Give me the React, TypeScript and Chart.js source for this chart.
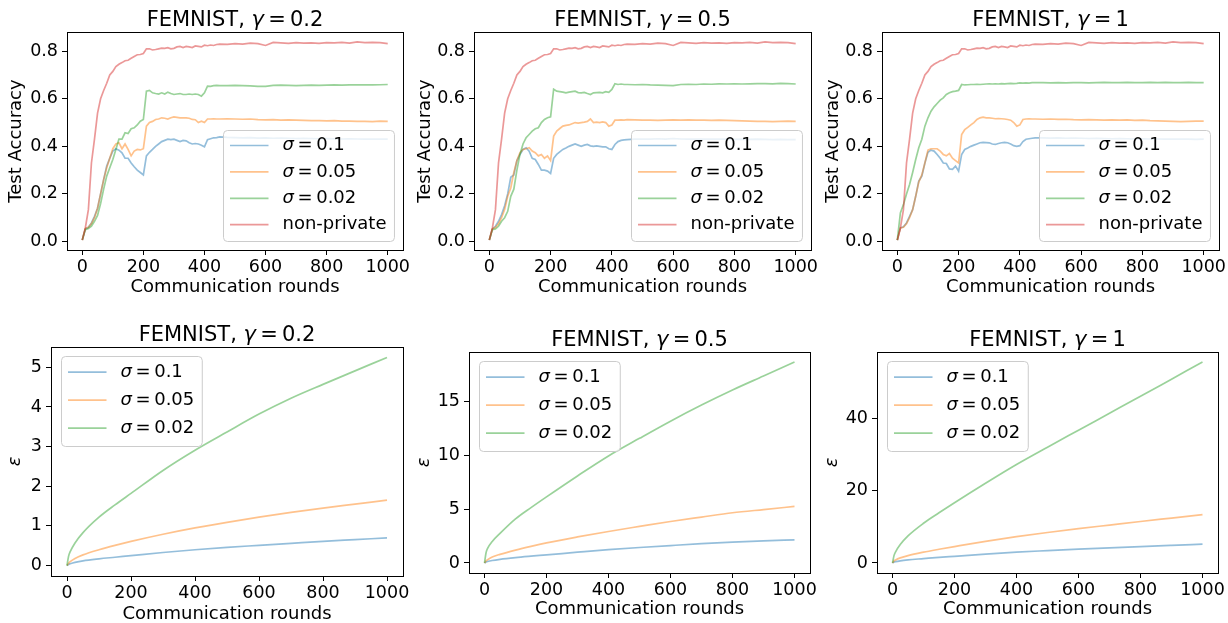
import React, { useEffect, useRef } from 'react';
import { Chart, registerables } from 'chart.js';

Chart.register(...registerables);

const FAMILY = '"DejaVu Sans", "Liberation Sans", sans-serif';

// ---------------- data ----------------
const accRounds = [0, 10, 20, 30, 40, 50, 60, 70, 80, 90, 100, 110, 120, 130, 140, 150, 160, 170, 180, 190, 200, 210, 220, 230, 240, 250, 260, 270, 280, 290, 300, 310, 320, 330, 340, 350, 360, 370, 380, 390, 400, 410, 420, 430, 440, 450, 475, 500, 525, 550, 575, 600, 625, 650, 675, 700, 725, 750, 775, 800, 825, 850, 875, 900, 925, 950, 975, 1000];

const accNonPrivate = [0.006, 0.057, 0.134, 0.33, 0.43, 0.54, 0.60, 0.635, 0.665, 0.70,
  0.715, 0.735, 0.745, 0.752, 0.76, 0.762, 0.77, 0.778, 0.785, 0.786,
  0.79, 0.81, 0.81, 0.805, 0.807, 0.81, 0.813, 0.812, 0.815, 0.81,
  0.812, 0.818, 0.82, 0.815, 0.82, 0.818, 0.815, 0.822, 0.82, 0.818,
  0.825, 0.823, 0.826, 0.824, 0.828, 0.83,
  0.829, 0.832, 0.83, 0.834, 0.832, 0.824, 0.837, 0.835, 0.833, 0.836, 0.834, 0.835, 0.833, 0.836, 0.835, 0.837, 0.834, 0.839, 0.836, 0.837, 0.836, 0.832];

const accG02Sig01 = [0.006, 0.053, 0.06, 0.078, 0.106, 0.14, 0.2, 0.26, 0.317, 0.35,
  0.38, 0.39, 0.384, 0.373, 0.35, 0.35, 0.33, 0.314, 0.30, 0.29,
  0.28, 0.36, 0.375, 0.387, 0.40, 0.41, 0.42, 0.425, 0.43, 0.428,
  0.43, 0.425, 0.42, 0.425, 0.423, 0.415, 0.41, 0.412, 0.41, 0.405,
  0.398, 0.428, 0.432, 0.436, 0.437, 0.44,
  0.438, 0.437, 0.436, 0.437, 0.435, 0.436, 0.434, 0.435, 0.434, 0.433, 0.434, 0.433, 0.432, 0.433, 0.432, 0.431, 0.432, 0.431, 0.43, 0.431, 0.43, 0.43];
const accG02Sig005 = [0.006, 0.055, 0.06, 0.075, 0.10, 0.14, 0.20, 0.26, 0.31, 0.35,
  0.39, 0.41, 0.415, 0.39, 0.41, 0.387, 0.36, 0.38, 0.387, 0.385,
  0.39, 0.485, 0.50, 0.505, 0.513, 0.515, 0.52, 0.518, 0.515, 0.52,
  0.524, 0.522, 0.52, 0.52, 0.52, 0.518, 0.513, 0.512, 0.50, 0.506,
  0.50, 0.515, 0.515, 0.516, 0.515, 0.515,
  0.516, 0.515, 0.514, 0.515, 0.512, 0.511, 0.512, 0.51, 0.511, 0.51, 0.509, 0.508, 0.508, 0.507, 0.508, 0.506, 0.506, 0.505, 0.505, 0.504, 0.506, 0.505];
const accG02Sig002 = [0.006, 0.05, 0.055, 0.065, 0.085, 0.11, 0.16, 0.22, 0.275, 0.31,
  0.345, 0.387, 0.43, 0.43, 0.457, 0.454, 0.474, 0.478, 0.49, 0.506,
  0.513, 0.632, 0.635, 0.625, 0.622, 0.62, 0.625, 0.62, 0.628, 0.622,
  0.618, 0.62, 0.622, 0.618, 0.618, 0.62, 0.618, 0.62, 0.618, 0.611,
  0.625, 0.653, 0.652, 0.655, 0.656, 0.655,
  0.655, 0.656, 0.655, 0.654, 0.652, 0.652, 0.656, 0.657, 0.656, 0.655, 0.656, 0.657, 0.656, 0.657, 0.658, 0.657, 0.658, 0.659, 0.658, 0.658, 0.659, 0.66];

const accG05Sig01 = [0.006, 0.053, 0.064, 0.085, 0.113, 0.15, 0.2, 0.27, 0.28, 0.34,
  0.366, 0.387, 0.394, 0.38, 0.35, 0.345, 0.324, 0.30, 0.30, 0.296,
  0.286, 0.35, 0.366, 0.377, 0.387, 0.393, 0.40, 0.405, 0.41, 0.405,
  0.40, 0.405, 0.408, 0.402, 0.40, 0.402, 0.40, 0.398, 0.398, 0.39,
  0.387, 0.408, 0.42, 0.425, 0.427, 0.428,
  0.43, 0.431, 0.43, 0.432, 0.43, 0.433, 0.431, 0.43, 0.431, 0.43, 0.431, 0.43, 0.43, 0.429, 0.43, 0.429, 0.43, 0.429, 0.428, 0.429, 0.428, 0.428];
const accG05Sig005 = [0.006, 0.053, 0.06, 0.075, 0.10, 0.135, 0.19, 0.225, 0.29, 0.34,
  0.373, 0.387, 0.39, 0.394, 0.38, 0.373, 0.36, 0.366, 0.35, 0.36,
  0.34, 0.443, 0.464, 0.475, 0.485, 0.488, 0.49, 0.495, 0.50, 0.498,
  0.50, 0.502, 0.505, 0.515, 0.50, 0.502, 0.50, 0.503, 0.50, 0.485,
  0.49, 0.51, 0.51, 0.511, 0.51, 0.512,
  0.511, 0.51, 0.51, 0.509, 0.51, 0.511, 0.51, 0.511, 0.51, 0.51, 0.509, 0.51, 0.509, 0.508, 0.507, 0.506, 0.505, 0.505, 0.504, 0.505, 0.506, 0.505];
const accG05Sig002 = [0.006, 0.05, 0.053, 0.064, 0.085, 0.10, 0.127, 0.19, 0.22, 0.30,
  0.366, 0.41, 0.436, 0.45, 0.464, 0.474, 0.478, 0.50, 0.513, 0.52,
  0.524, 0.64, 0.632, 0.63, 0.628, 0.625, 0.628, 0.63, 0.632, 0.626,
  0.625, 0.627, 0.622, 0.618, 0.625, 0.626, 0.627, 0.625, 0.63, 0.627,
  0.639, 0.663, 0.66, 0.662, 0.66, 0.66,
  0.659, 0.66, 0.658, 0.657, 0.656, 0.655, 0.66, 0.661, 0.66, 0.662, 0.661, 0.663, 0.662, 0.663, 0.662, 0.663, 0.664, 0.664, 0.663, 0.665, 0.664, 0.662];

const accG1Sig01 = [0.006, 0.057, 0.062, 0.078, 0.106, 0.134, 0.19, 0.254, 0.275, 0.33,
  0.375, 0.384, 0.38, 0.366, 0.35, 0.33, 0.328, 0.305, 0.303, 0.317,
  0.296, 0.366, 0.387, 0.393, 0.40, 0.405, 0.41, 0.415, 0.417, 0.416,
  0.415, 0.41, 0.408, 0.412, 0.415, 0.417, 0.415, 0.41, 0.403, 0.40,
  0.403, 0.42, 0.43, 0.432, 0.434, 0.436,
  0.436, 0.435, 0.436, 0.434, 0.435, 0.434, 0.433, 0.434, 0.433, 0.432, 0.433, 0.432, 0.431, 0.432, 0.431, 0.431, 0.43, 0.431, 0.43, 0.43, 0.429, 0.43];
const accG1Sig005 = [0.006, 0.057, 0.06, 0.075, 0.10, 0.134, 0.19, 0.25, 0.28, 0.33,
  0.384, 0.39, 0.39, 0.39, 0.38, 0.366, 0.36, 0.37, 0.35, 0.34,
  0.33, 0.45, 0.47, 0.48, 0.49, 0.50, 0.513, 0.52, 0.523, 0.52,
  0.52, 0.518, 0.516, 0.517, 0.516, 0.515, 0.513, 0.51, 0.50, 0.485,
  0.49, 0.513, 0.515, 0.516, 0.515, 0.515,
  0.514, 0.515, 0.513, 0.514, 0.512, 0.511, 0.512, 0.511, 0.51, 0.511, 0.51, 0.511, 0.509, 0.51, 0.508, 0.507, 0.506, 0.505, 0.504, 0.505, 0.506, 0.506];
const accG1Sig002 = [0.006, 0.12, 0.155, 0.2, 0.24, 0.29, 0.345, 0.394, 0.43, 0.485,
  0.52, 0.548, 0.566, 0.58, 0.594, 0.604, 0.618, 0.625, 0.63, 0.632,
  0.635, 0.66, 0.658, 0.659, 0.66, 0.66, 0.661, 0.66, 0.661, 0.662,
  0.663, 0.662, 0.663, 0.662, 0.664, 0.663, 0.664, 0.665, 0.664, 0.665,
  0.667, 0.666, 0.667, 0.666, 0.668, 0.668,
  0.668, 0.667, 0.668, 0.667, 0.668, 0.668, 0.667, 0.668, 0.669, 0.668, 0.668, 0.669, 0.668, 0.668, 0.669, 0.668, 0.669, 0.668, 0.668, 0.669, 0.668, 0.668];

const epsRounds = [0, 5, 10, 25, 50, 100, 150, 200, 300, 400, 500, 600, 700, 800, 900, 1000];
const epsG02Sig01 = [0, 0.03, 0.045, 0.08, 0.12, 0.17, 0.21, 0.25, 0.33, 0.40, 0.46, 0.51, 0.56, 0.61, 0.655, 0.70];
const epsG02Sig005 = [0, 0.06, 0.10, 0.18, 0.27, 0.40, 0.51, 0.61, 0.79, 0.95, 1.09, 1.22, 1.34, 1.45, 1.55, 1.65];
const epsG02Sig002 = [0, 0.24, 0.35, 0.57, 0.83, 1.22, 1.53, 1.82, 2.40, 2.91, 3.37, 3.82, 4.22, 4.57, 4.91, 5.25];
const epsG05Sig01 = [0, 0.08, 0.13, 0.23, 0.34, 0.50, 0.63, 0.75, 1.0, 1.24, 1.44, 1.62, 1.79, 1.93, 2.05, 2.15];
const epsG05Sig005 = [0, 0.2, 0.3, 0.55, 0.8, 1.2, 1.55, 1.87, 2.42, 2.93, 3.4, 3.86, 4.27, 4.67, 4.97, 5.26];
const epsG05Sig002 = [0, 0.95, 1.35, 2.0, 2.75, 4.1, 5.15, 6.15, 8.1, 9.96, 11.6, 13.2, 14.7, 16.1, 17.4, 18.7];
const epsG1Sig01 = [0, 0.25, 0.37, 0.6, 0.85, 1.2, 1.55, 1.85, 2.45, 3.0, 3.42, 3.82, 4.2, 4.55, 4.88, 5.2];
const epsG1Sig005 = [0, 0.58, 0.85, 1.4, 2.05, 3.0, 3.8, 4.55, 6.0, 7.3, 8.45, 9.5, 10.5, 11.5, 12.45, 13.4];
const epsG1Sig002 = [0, 2.1, 3.1, 5.1, 7.5, 11.0, 13.9, 16.7, 22.1, 27.3, 32.1, 36.8, 41.5, 46.2, 50.95, 55.7];

const xTickValues = [0, 200, 400, 600, 800, 1000];
const accTickValues = [0, 0.2, 0.4, 0.6, 0.8];
const epsTicksG02 = [0, 1, 2, 3, 4, 5];
const epsTicksG05 = [0, 5, 10, 15];
const epsTicksG1 = [0, 20, 40];

const sigmaLabels = ['σ=0.1', 'σ=0.05', 'σ=0.02'];
const nonPrivateLabel = 'non-private';
const panelTitles = ['FEMNIST, γ=0.2', 'FEMNIST, γ=0.5', 'FEMNIST, γ=1'];
const xAxisTitle = 'Communication rounds';
const accAxisTitle = 'Test Accuracy';
const epsAxisTitle = 'ε';

// ---------------- styling ----------------
const LINE_COLORS = ['rgba(31,119,180,0.48)', 'rgba(255,127,14,0.48)', 'rgba(44,160,44,0.48)', 'rgba(214,39,40,0.48)'];
const LINE_WIDTH = 1.7;
const TICK_SIZE = 17.5;
const LABEL_SIZE = 18;
const TITLE_SIZE = 21;
const LEGEND_SIZE = 18;

type Box = { l: number; t: number; r: number; b: number };
type Cell = { x: number; y: number; w: number; h: number };
type PanelDef = {
  cell: Cell;
  plot: Box;
  title: string;
  yTitle: string;
  yItalic: boolean;
  yTitlePad: number;
  xTitlePad: number;
  xs: number[];
  series: number[][];
  labels: string[];
  yTicks: number[];
  yDecimals: number;
  legend: 'lr' | 'ul';
  legendFirst: number;
  legendGap: number;
  legendLast: number;
  smooth: boolean;
};

const accLabels = [...sigmaLabels, nonPrivateLabel];

const PANELS: PanelDef[] = [
  {
    cell: { x: 0, y: 0, w: 410, h: 300 }, plot: { l: 67, t: 32, r: 403, b: 250 },
    title: panelTitles[0], yTitle: accAxisTitle, yItalic: false, yTitlePad: 5.4, xTitlePad: 2.1,
    xs: accRounds, series: [accG02Sig01, accG02Sig005, accG02Sig002, accNonPrivate], labels: accLabels,
    yTicks: accTickValues, yDecimals: 1, legend: 'lr', legendFirst: 15, legendGap: 26.4, legendLast: 16.8, smooth: false,
  },
  {
    cell: { x: 410, y: 0, w: 408, h: 300 }, plot: { l: 474, t: 32, r: 811, b: 250 },
    title: panelTitles[1], yTitle: accAxisTitle, yItalic: false, yTitlePad: 4.4, xTitlePad: 2.1,
    xs: accRounds, series: [accG05Sig01, accG05Sig005, accG05Sig002, accNonPrivate], labels: accLabels,
    yTicks: accTickValues, yDecimals: 1, legend: 'lr', legendFirst: 15, legendGap: 26.4, legendLast: 16.8, smooth: false,
  },
  {
    cell: { x: 818, y: 0, w: 410, h: 300 }, plot: { l: 882, t: 32, r: 1219, b: 250 },
    title: panelTitles[2], yTitle: accAxisTitle, yItalic: false, yTitlePad: 4.4, xTitlePad: 2.1,
    xs: accRounds, series: [accG1Sig01, accG1Sig005, accG1Sig002, accNonPrivate], labels: accLabels,
    yTicks: accTickValues, yDecimals: 1, legend: 'lr', legendFirst: 15, legendGap: 26.4, legendLast: 16.8, smooth: false,
  },
  {
    cell: { x: 0, y: 300, w: 410, h: 323 }, plot: { l: 51, t: 347, r: 403, b: 576 },
    title: panelTitles[0], yTitle: epsAxisTitle, yItalic: true, yTitlePad: 4.7, xTitlePad: -2.6,
    xs: epsRounds, series: [epsG02Sig01, epsG02Sig005, epsG02Sig002], labels: sigmaLabels,
    yTicks: epsTicksG02, yDecimals: 0, legend: 'ul', legendFirst: 15.7, legendGap: 28, legendLast: 18.3, smooth: true,
  },
  {
    cell: { x: 410, y: 300, w: 408, h: 323 }, plot: { l: 469, t: 352, r: 810, b: 573 },
    title: panelTitles[1], yTitle: epsAxisTitle, yItalic: true, yTitlePad: 3.7, xTitlePad: 2.4,
    xs: epsRounds, series: [epsG05Sig01, epsG05Sig005, epsG05Sig002], labels: sigmaLabels,
    yTicks: epsTicksG05, yDecimals: 0, legend: 'ul', legendFirst: 15.7, legendGap: 28, legendLast: 18.3, smooth: true,
  },
  {
    cell: { x: 818, y: 300, w: 410, h: 323 }, plot: { l: 877, t: 352, r: 1218, b: 573 },
    title: panelTitles[2], yTitle: epsAxisTitle, yItalic: true, yTitlePad: 3.7, xTitlePad: 2.4,
    xs: epsRounds, series: [epsG1Sig01, epsG1Sig005, epsG1Sig002], labels: sigmaLabels,
    yTicks: epsTicksG1, yDecimals: 0, legend: 'ul', legendFirst: 15.7, legendGap: 28, legendLast: 18.3, smooth: true,
  },
];

// ---------------- rich text (italic greek, spaced '=') ----------------
type Piece = { t: string; italic: boolean; before: number; after: number };
function splitRich(text: string): Piece[] {
  const out: Piece[] = [];
  let buf = '';
  const flush = () => {
    if (buf) { out.push({ t: buf, italic: false, before: 0, after: 0 }); buf = ''; }
  };
  for (const ch of text) {
    if (/[\u03b1-\u03c9]/.test(ch)) { flush(); out.push({ t: ch, italic: true, before: 0, after: 0 }); }
    else if (ch === '=') { flush(); out.push({ t: '=', italic: false, before: 0.2, after: 0.2 }); }
    else buf += ch;
  }
  flush();
  return out;
}
function fontFor(p: Piece, size: number) {
  return `${p.italic ? 'italic ' : ''}${size}px ${FAMILY}`;
}
function richWidth(ctx: CanvasRenderingContext2D, text: string, size: number) {
  let w = 0;
  for (const p of splitRich(text)) {
    ctx.font = fontFor(p, size);
    w += (p.before + p.after) * size + ctx.measureText(p.t).width;
  }
  return w;
}
function drawRich(ctx: CanvasRenderingContext2D, text: string, x: number, y: number, size: number, align: 'left' | 'center') {
  let cx = align === 'center' ? x - richWidth(ctx, text, size) / 2 : x;
  ctx.textAlign = 'left';
  for (const p of splitRich(text)) {
    ctx.font = fontFor(p, size);
    cx += p.before * size;
    ctx.fillText(p.t, cx, y);
    cx += ctx.measureText(p.t).width + p.after * size;
  }
}

function alignPx(v: number) {
  return Math.round(v - 0.5) + 0.5;
}

function decorPlugin(p: PanelDef) {
  return {
    id: 'panelDecor',
    afterDraw(chart: any) {
      const ctx: CanvasRenderingContext2D = chart.ctx;
      const ca = chart.chartArea;
      ctx.save();
      // frame (all four spines)
      ctx.strokeStyle = '#000';
      ctx.lineWidth = 1;
      const x0 = alignPx(ca.left), x1 = alignPx(ca.right), y0 = alignPx(ca.top), y1 = alignPx(ca.bottom);
      ctx.strokeRect(x0, y0, x1 - x0, y1 - y0);

      // title
      ctx.fillStyle = '#000';
      ctx.textBaseline = 'alphabetic';
      drawRich(ctx, p.title, (ca.left + ca.right) / 2, ca.top - 6.5, TITLE_SIZE, 'center');

      // legend
      const ds = chart.data.datasets as any[];
      const n = ds.length;
      const textW = Math.max(...ds.map((d) => richWidth(ctx, d.label, LEGEND_SIZE)));
      const w = 59 + textW + 8;
      const h = p.legendFirst + p.legendGap * (n - 1) + p.legendLast;
      let lx: number, ly: number;
      if (p.legend === 'lr') { lx = ca.right - 9.5 - w; ly = ca.bottom - 9 - h; }
      else { lx = ca.left + 9.5; ly = ca.top + 9; }
      lx = Math.round(lx) + 0.5; ly = Math.round(ly) + 0.5;
      ctx.beginPath();
      if ((ctx as any).roundRect) (ctx as any).roundRect(lx, ly, w, h, 4);
      else ctx.rect(lx, ly, w, h);
      ctx.fillStyle = 'rgba(255,255,255,0.8)';
      ctx.fill();
      ctx.strokeStyle = '#cccccc';
      ctx.lineWidth = 1;
      ctx.stroke();
      ds.forEach((d, i) => {
        const ry = ly + p.legendFirst + i * p.legendGap;
        ctx.beginPath();
        ctx.moveTo(lx + 6.5, ry);
        ctx.lineTo(lx + 45, ry);
        ctx.strokeStyle = d.borderColor;
        ctx.lineWidth = LINE_WIDTH;
        ctx.stroke();
        ctx.fillStyle = '#000';
        ctx.textBaseline = 'middle';
        drawRich(ctx, d.label, lx + 59, ry, LEGEND_SIZE, 'left');
      });
      ctx.restore();
    },
  };
}

function buildConfig(p: PanelDef): any {
  const all = p.series.flat();
  const lo = Math.min(...all);
  const hi = Math.max(...all);
  const yPad = (hi - lo) * 0.05;
  const xLo = p.xs[0];
  const xHi = p.xs[p.xs.length - 1];
  const xPad = (xHi - xLo) * 0.05;
  const cellR = p.cell.x + p.cell.w;
  const cellB = p.cell.y + p.cell.h;
  const n = p.series.length;
  const tickFont = { family: FAMILY, size: TICK_SIZE };
  const grid = { display: true, drawOnChartArea: false, drawTicks: true, tickLength: 5, tickColor: '#000', tickWidth: 1, color: '#000' };
  const border = { display: true, color: '#000', width: 1 };
  return {
    type: 'line',
    data: {
      datasets: p.series.map((vals, k) => ({
        label: p.labels[k],
        data: vals.map((v, j) => ({ x: p.xs[j], y: v })),
        borderColor: LINE_COLORS[k],
        backgroundColor: LINE_COLORS[k],
        borderWidth: LINE_WIDTH,
        pointRadius: 0,
        pointHoverRadius: 0,
        fill: false,
        tension: p.smooth ? 0.4 : 0,
        cubicInterpolationMode: p.smooth ? 'monotone' : 'default',
        order: n - k,
      })),
    },
    options: {
      responsive: false,
      maintainAspectRatio: false,
      animation: false,
      events: [],
      layout: { padding: { top: p.plot.t - p.cell.y, left: 0, right: cellR - p.plot.r, bottom: 0 } },
      plugins: { legend: { display: false }, tooltip: { enabled: false }, title: { display: false } },
      scales: {
        x: {
          type: 'linear',
          min: xLo - xPad,
          max: xHi + xPad,
          bounds: 'data',
          afterBuildTicks: (s: any) => { s.ticks = xTickValues.map((v) => ({ value: v })); },
          afterFit: (s: any) => { s.height = cellB - p.plot.b; s.paddingLeft = 0; s.paddingRight = 0; },
          ticks: { font: tickFont, color: '#000', padding: 1.5, maxRotation: 0, autoSkip: false, callback: (v: any) => String(v) },
          grid, border,
          title: { display: true, text: xAxisTitle, color: '#000', font: { family: FAMILY, size: LABEL_SIZE }, padding: { top: 0, bottom: p.xTitlePad } },
        },
        y: {
          type: 'linear',
          min: lo - yPad,
          max: hi + yPad,
          bounds: 'data',
          afterBuildTicks: (s: any) => { s.ticks = p.yTicks.map((v) => ({ value: v })); },
          afterFit: (s: any) => { s.width = p.plot.l - p.cell.x; s.paddingTop = 0; s.paddingBottom = 0; },
          ticks: { font: tickFont, color: '#000', padding: 4, autoSkip: false, callback: (v: any) => Number(v).toFixed(p.yDecimals) },
          grid, border,
          title: {
            display: true, text: p.yTitle, color: '#000',
            font: { family: FAMILY, size: LABEL_SIZE, style: p.yItalic ? 'italic' : 'normal' },
            padding: { top: p.yTitlePad, bottom: 0 },
          },
        },
      },
    },
    plugins: [decorPlugin(p)],
  };
}

export default function App() {
  const refs = useRef<(HTMLCanvasElement | null)[]>([]);
  useEffect(() => {
    const charts = PANELS.map((p, i) => new Chart(refs.current[i] as HTMLCanvasElement, buildConfig(p)));
    return () => charts.forEach((c) => c.destroy());
  }, []);
  return (
    <div style={{ position: 'absolute', left: 0, top: 0, width: 1228, height: 623, overflow: 'hidden', background: '#fff' }}>
      {PANELS.map((p, i) => (
        <canvas
          key={i}
          ref={(el) => { refs.current[i] = el; }}
          width={p.cell.w}
          height={p.cell.h}
          style={{ position: 'absolute', left: p.cell.x, top: p.cell.y, width: p.cell.w, height: p.cell.h }}
        />
      ))}
    </div>
  );
}
